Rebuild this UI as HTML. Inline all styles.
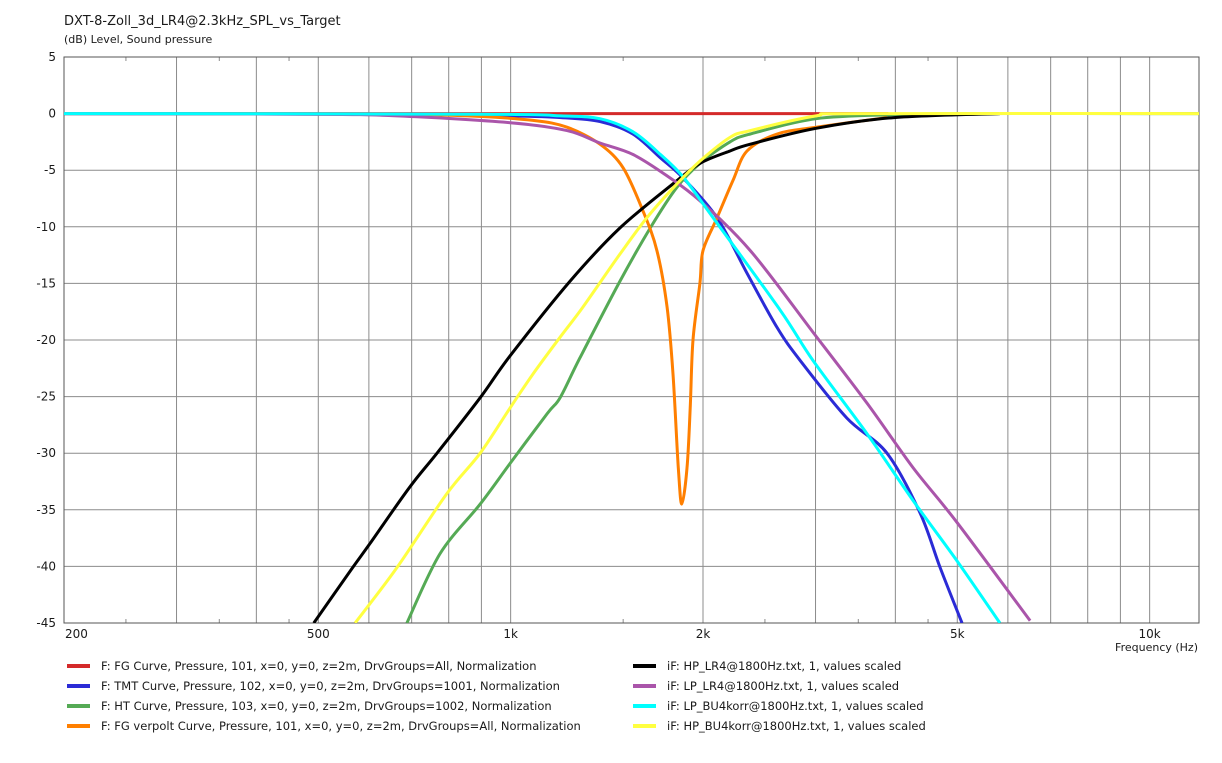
<!DOCTYPE html>
<html><head><meta charset="utf-8"><style>
body{margin:0;background:#fff;width:1222px;height:759px;overflow:hidden;font-family:"DejaVu Sans","Liberation Sans",sans-serif}
svg text{font-family:"DejaVu Sans","Liberation Sans",sans-serif;fill:#1a1a1a}
</style></head><body>
<svg id="chart" width="1222" height="759" xmlns="http://www.w3.org/2000/svg">
<text x="64" y="25" font-size="13">DXT-8-Zoll_3d_LR4@2.3kHz_SPL_vs_Target</text>
<text x="64" y="43" font-size="11">(dB)  Level, Sound pressure</text>
<text x="1198" y="651" font-size="11" text-anchor="end">Frequency  (Hz)</text>
<g id="grid"></g>
<defs><clipPath id="pc"><rect x="64" y="57" width="1135" height="566"/></clipPath></defs>
<g id="series" clip-path="url(#pc)"></g>
<g id="legend"></g>
</svg>
<script>
const yTicks=[5,0,-5,-10,-15,-20,-25,-30,-35,-40,-45];
const xGrid=[300,400,500,600,700,800,900,1000,2000,3000,4000,5000,6000,7000,8000,9000,10000];
const xMinor=[250,350,450,1500,2500,3500,4500];
const xLabels=[[200,"200"],[500,"500"],[1000,"1k"],[2000,"2k"],[5000,"5k"],[10000,"10k"]];
const redF=[200,3900];const redV=[0,0];
const blueF=[200,600,800,998,1200,1380,1553,1715,1862,2104,2344,2612,2838,3359,3882,4375,4700,5085];
const blueV=[0,-0.05,-0.1,-0.2,-0.35,-0.7,-1.8,-3.9,-5.7,-9.2,-14.1,-18.9,-21.8,-26.9,-30,-35.3,-40.1,-45];
const greenF=[688,775,896,998,1141,1195,1283,1483,1654,1821,1978,2204,2372,3006,4000,5000,12000];
const greenV=[-45,-38.9,-34.5,-30.9,-26.5,-25.1,-21.6,-14.8,-10.1,-6.5,-4.4,-2.5,-1.8,-0.45,-0.1,0,0];
const orangeF=[200,600,856,1084,1225,1380,1500,1611,1694,1757,1795,1830,1853,1888,1910,1929,1978,2000,2104,2228,2344,2612,3006,3882];
const orangeV=[0,-0.05,-0.2,-0.6,-1.2,-2.7,-4.8,-8.6,-12.1,-17.1,-23,-31.3,-34.5,-31.3,-26,-20,-15,-12.1,-9.2,-5.9,-3.3,-1.8,-1.2,-0.35];
const blackF=[492,566,602,695,767,896,998,1239,1483,1795,1978,2204,2372,3006,3980,5830];
const blackV=[-45,-40.1,-38,-33,-30,-25.1,-21.4,-14.8,-10.1,-6.2,-4.4,-3.3,-2.7,-1.3,-0.35,0];
const purpleF=[200,480,664,998,1225,1380,1553,1757,1978,2372,2972,3614,4266,4993,6500];
const purpleV=[0,-0.05,-0.2,-0.8,-1.5,-2.6,-3.6,-5.5,-7.7,-12.1,-19.3,-25.6,-31.3,-36.1,-44.8];
const cyanF=[200,900,1200,1380,1553,1715,1862,2074,2644,2972,3614,4266,4993,5830];
const cyanV=[0,-0.05,-0.2,-0.45,-1.6,-3.6,-5.6,-9.2,-17.4,-21.8,-28.3,-34.2,-39.5,-45];
const yellowF=[571,664,794,896,998,1084,1186,1297,1483,1634,1821,1978,2204,2372,3006,3500,12000];
const yellowV=[-45,-40.1,-33.6,-30,-26,-23,-20,-17.1,-12.4,-9.2,-6.2,-4.2,-2.1,-1.5,-0.2,0,0];

const NS="http://www.w3.org/2000/svg";
const X0=64,X1=1199,Y0=57,Y1=623,DEC=639;
function xs(f){return X0+Math.log10(f/200)*DEC;}
function ys(v){return Y0+(5-v)*(Y1-Y0)/50;}
function mk(tag,attrs,parent){const e=document.createElementNS(NS,tag);for(const k in attrs)e.setAttribute(k,attrs[k]);parent.appendChild(e);return e;}
function smoothPath(P){
  let d='M'+P[0][0].toFixed(1)+','+P[0][1].toFixed(1);
  for(let i=0;i<P.length-1;i++){
    const p0=P[Math.max(0,i-1)],p1=P[i],p2=P[i+1],p3=P[Math.min(P.length-1,i+2)];
    const t=0.16;
    const c1=[p1[0]+(p2[0]-p0[0])*t,p1[1]+(p2[1]-p0[1])*t];
    const c2=[p2[0]-(p3[0]-p1[0])*t,p2[1]-(p3[1]-p1[1])*t];
    d+=' C'+c1[0].toFixed(1)+','+c1[1].toFixed(1)+' '+c2[0].toFixed(1)+','+c2[1].toFixed(1)+' '+p2[0].toFixed(1)+','+p2[1].toFixed(1);
  }
  return d;
}
const grid=document.getElementById('grid');
yTicks.forEach(v=>{
  const l=mk('line',{x1:X0,x2:X1,y1:ys(v),y2:ys(v),stroke:'#8c8c8c','stroke-width':1},grid);
  
  
  const t=mk('text',{x:56,y:ys(v)+4,'font-size':12,'text-anchor':'end'},grid);
  
  
  t.textContent=v;
});
xGrid.forEach(f=>{
  const l=mk('line',{x1:xs(f),x2:xs(f),y1:Y0,y2:Y1,stroke:'#8c8c8c','stroke-width':1},grid);
  
  
});
xMinor.forEach(f=>{
  [[Y0,Y0+4],[Y1-4,Y1]].forEach(p=>{
    const l=mk('line',{x1:xs(f),x2:xs(f),y1:p[0],y2:p[1],stroke:'#8c8c8c','stroke-width':1},grid);
    
    
  });
});
xLabels.forEach(d=>{
  const t=mk('text',{x:xs(d[0])+(d[0]===200?1:0),y:638,'font-size':12,'text-anchor':d[0]===200?'start':'middle'},grid);
  
  
  t.textContent=d[1];
});
const fr=mk('rect',{x:X0,y:Y0,width:X1-X0,height:Y1-Y0,fill:'none',stroke:'#555','stroke-width':1},grid);



const series=[
 ['red-fg-curve',redF,redV,'#d42a2a'],
 ['blue-tmt-curve',blueF,blueV,'#2b2bd6'],
 ['green-ht-curve',greenF,greenV,'#55aa55'],
 ['orange-fg-verpolt-curve',orangeF,orangeV,'#ff7f00'],
 ['black-hp-lr4-curve',blackF,blackV,'#000000'],
 ['purple-lp-lr4-curve',purpleF,purpleV,'#aa55aa'],
 ['cyan-lp-bu4korr-curve',cyanF,cyanV,'#00ffff'],
 ['yellow-hp-bu4korr-curve',yellowF,yellowV,'#ffff40']
];
const sg=document.getElementById('series');
series.forEach(s=>{
  const P=s[1].map((f,i)=>[xs(f),ys(s[2][i])]);
  const p=mk('path',{d:smoothPath(P),fill:'none',stroke:s[3],'stroke-width':3,'stroke-linejoin':'round'},sg);
  
  
});
const legendItems=[
 ['F: FG Curve, Pressure, 101, x=0, y=0, z=2m, DrvGroups=All, Normalization','#d42a2a',67,666],
 ['F: TMT Curve, Pressure, 102, x=0, y=0, z=2m, DrvGroups=1001, Normalization','#2b2bd6',67,686],
 ['F: HT Curve, Pressure, 103, x=0, y=0, z=2m, DrvGroups=1002, Normalization','#55aa55',67,706],
 ['F: FG verpolt Curve, Pressure, 101, x=0, y=0, z=2m, DrvGroups=All, Normalization','#ff7f00',67,726],
 ['iF: HP_LR4@1800Hz.txt, 1, values scaled','#000000',633,666],
 ['iF: LP_LR4@1800Hz.txt, 1, values scaled','#aa55aa',633,686],
 ['iF: LP_BU4korr@1800Hz.txt, 1, values scaled','#00ffff',633,706],
 ['iF: HP_BU4korr@1800Hz.txt, 1, values scaled','#ffff40',633,726]
];
const lg=document.getElementById('legend');
legendItems.forEach(it=>{
  const g=mk('g',{},lg);
  
  
  const r=mk('rect',{x:it[2],y:it[3]-2,width:23,height:4,fill:it[1]},g);
  
  
  const t=mk('text',{x:it[2]+34,y:it[3]+4,'font-size':11.5},g);
  
  
  t.textContent=it[0];
});
</script>
</body></html>
